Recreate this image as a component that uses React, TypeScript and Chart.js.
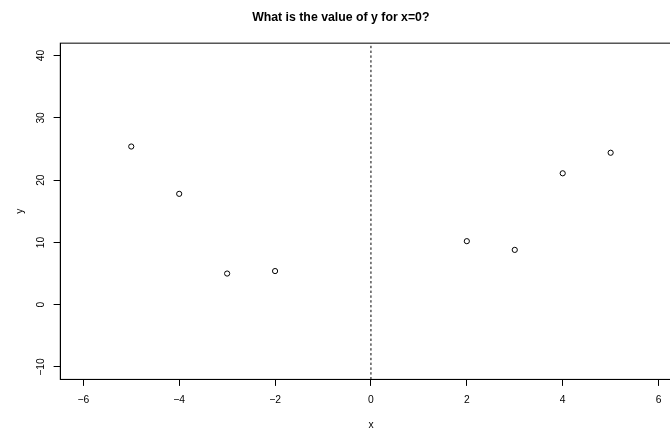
import React, { useEffect, useRef } from "react";
import { Chart, registerables } from "chart.js";

Chart.register(...registerables);

// Observations
const xValues = [-5, -4, -3, -2, 2, 3, 4, 5];
const yValues = [25.4, 17.8, 5.0, 5.4, 10.2, 8.8, 21.1, 24.4];

// Axis ticks
const xTicks = [-6, -4, -2, 0, 2, 4, 6];
const yTicks = [-10, 0, 10, 20, 30, 40];

// Reference line at x = 0
const refX = 0;

const titleText = "What is the value of y for x=0?";
const FONT = "'Liberation Sans', Arial, Helvetica, sans-serif";

const fmt = (v: number) => (v < 0 ? "\u2212" + Math.abs(v) : String(v));

const boxPlugin = {
  id: "plotBox",
  afterDraw(chart: any) {
    const { ctx, chartArea } = chart;
    ctx.save();
    ctx.strokeStyle = "#000";
    ctx.lineWidth = 1;
    ctx.strokeRect(chartArea.left, chartArea.top, chartArea.right - chartArea.left, chartArea.bottom - chartArea.top);
    ctx.restore();
  },
};

export default function App() {
  const ref = useRef<HTMLCanvasElement | null>(null);

  useEffect(() => {
    if (!ref.current) return;
    const points = xValues.map((x, i) => ({ x, y: yValues[i] }));
    const chart = new Chart(ref.current, {
      type: "scatter",
      data: {
        datasets: [
          {
            data: points,
            pointStyle: "circle",
            pointRadius: 2.6,
            pointBorderWidth: 1,
            pointBorderColor: "#000",
            pointBackgroundColor: "rgba(0,0,0,0)",
            showLine: false,
          },
          {
            data: [
              { x: refX, y: -12 },
              { x: refX, y: 42 },
            ],
            showLine: true,
            borderColor: "#000",
            borderWidth: 1,
            borderDash: [2.4, 2.4],
            pointRadius: 0,
          },
        ],
      },
      options: {
        animation: false,
        responsive: false,
        devicePixelRatio: 1,
        layout: { padding: { left: 0, right: 60.4, top: 0, bottom: 0 } },
        plugins: {
          legend: { display: false },
          tooltip: { enabled: false },
          title: {
            display: true,
            text: titleText,
            color: "#000",
            font: { family: FONT, size: 12.3, weight: "bold", lineHeight: 1.2 },
            padding: { top: 9.9, bottom: 18.5 },
          },
        },
        scales: {
          x: {
            type: "linear",
            min: -6.48,
            max: 6.48,
            afterBuildTicks: (s: any) => {
              s.ticks = xTicks.map((v) => ({ value: v }));
            },
            afterFit: (s: any) => {
              s.height = 440 - 379.4;
            },
            grid: { display: true, drawOnChartArea: false, drawTicks: true, tickLength: 6.5, color: "#000", lineWidth: 1 },
            border: { display: true, color: "#000", width: 1 },
            ticks: {
              autoSkip: false,
              maxRotation: 0,
              minRotation: 0,
              padding: 7.6,
              color: "#000",
              font: { family: FONT, size: 10.3, lineHeight: 1.2 },
              callback: (v: any) => fmt(Number(v)),
            },
            title: {
              display: true,
              text: "x",
              color: "#000",
              font: { family: FONT, size: 10.3, lineHeight: 1.2 },
              padding: { top: 0, bottom: 9 },
            },
          },
          y: {
            type: "linear",
            min: -12,
            max: 42,
            afterBuildTicks: (s: any) => {
              s.ticks = yTicks.map((v) => ({ value: v }));
            },
            afterFit: (s: any) => {
              s.width = 60.3;
            },
            grid: { display: true, drawOnChartArea: false, drawTicks: true, tickLength: 6.7, color: "#000", lineWidth: 1 },
            border: { display: true, color: "#000", width: 1 },
            ticks: {
              autoSkip: false,
              minRotation: 90,
              maxRotation: 90,
              crossAlign: "center",
              padding: 3.85,
              color: "#000",
              font: { family: FONT, size: 10.3, lineHeight: 1.2 },
              callback: (v: any) => fmt(Number(v)),
            },
            title: {
              display: true,
              text: "y",
              color: "#000",
              font: { family: FONT, size: 10.3, lineHeight: 1.2 },
              padding: { top: 13.5, bottom: 0 },
            },
          },
        },
      },
      plugins: [boxPlugin],
    } as any);
    return () => chart.destroy();
  }, []);

  return (
    <div
      style={{
        position: "fixed",
        left: 0,
        top: 0,
        width: 670,
        height: 428,
        overflow: "hidden",
        background: "#fff",
      }}
    >
      <canvas ref={ref} width={742} height={440} style={{ display: "block", width: 742, height: 440 }} />
    </div>
  );
}
